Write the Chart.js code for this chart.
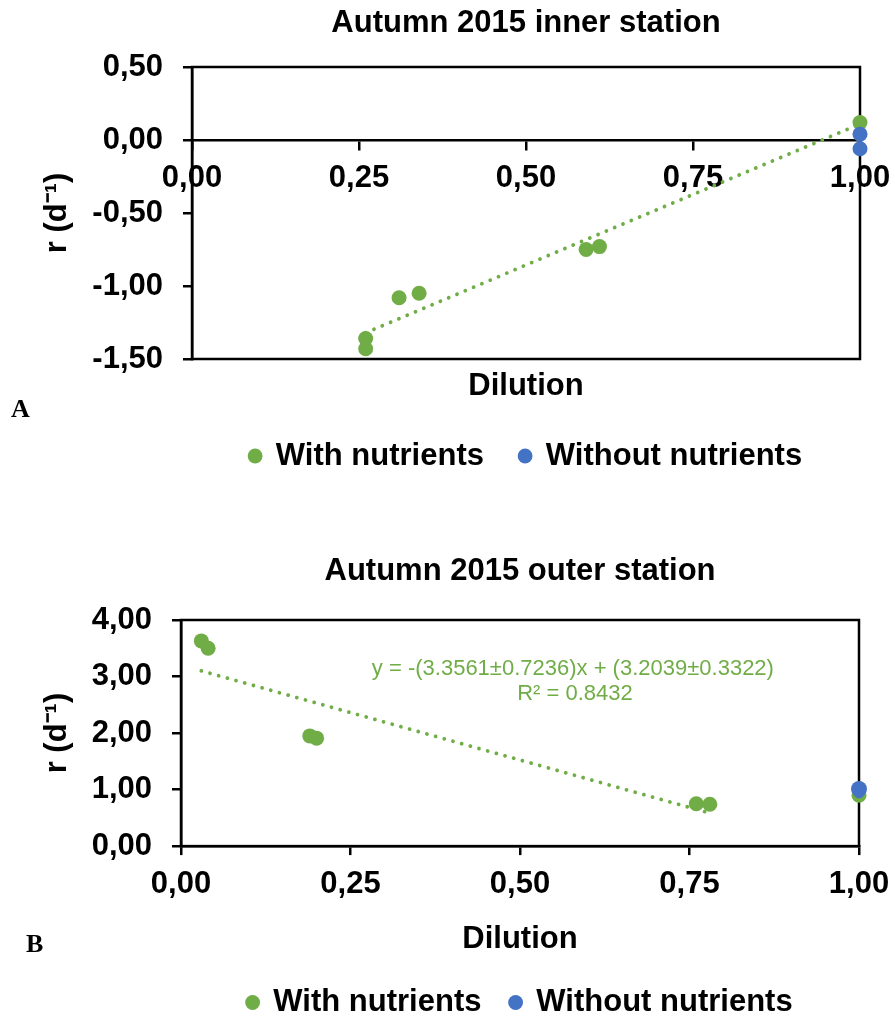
<!DOCTYPE html>
<html><head><meta charset="utf-8">
<script src="https://cdn.jsdelivr.net/npm/chart.js@4"></script>
<style>
html,body{margin:0;padding:0;background:#fff;overflow:hidden;width:895px;height:1021px;}
#wrap{position:relative;width:895px;height:1021px;overflow:hidden;}
canvas{position:absolute;left:0;}
#c1{top:0}
#c2{top:484px}
.lbl{position:absolute;font-family:"Liberation Serif","Times New Roman",serif;font-weight:bold;font-size:26px;color:#000;line-height:1}
</style></head>
<body><div id="wrap">
<canvas id="c1" width="895" height="484"></canvas>
<canvas id="c2" width="895" height="544"></canvas>
<div class="lbl" style="left:11px;top:396px">A</div>
<div class="lbl" style="left:26px;top:931px">B</div>
</div>
<script>
// ---------- data: panel A (inner station) ----------
const innerWithX    = [0.26, 0.26, 0.31, 0.34, 0.59, 0.61, 1.00];
const innerWithR    = [-1.36, -1.43, -1.08, -1.05, -0.75, -0.73, 0.12];
const innerWithoutX = [1.00, 1.00];
const innerWithoutR = [0.04, -0.06];
const innerTrendX   = [0.26, 1.00];
const innerTrendR   = [-1.32, 0.11];
const innerYTicks   = [-1.5, -1.0, -0.5, 0.0, 0.5];
const innerYLabels  = ['-1,50', '-1,00', '-0,50', '0,00', '0,50'];

// ---------- data: panel B (outer station) ----------
const outerWithX    = [0.03, 0.04, 0.19, 0.20, 0.76, 0.78, 1.00];
const outerWithR    = [3.63, 3.50, 1.95, 1.91, 0.75, 0.74, 0.90];
const outerWithoutX = [1.00, 1.00];
const outerWithoutR = [1.01, 0.93];
const outerTrendX   = [0.03, 0.775];
const outerTrendR   = [3.10, 0.60];
const outerYTicks   = [0, 1, 2, 3, 4];
const outerYLabels  = ['0,00', '1,00', '2,00', '3,00', '4,00'];
const outerEquation = 'y = -(3.3561±0.7236)x + (3.2039±0.3322)';
const outerR2       = 'R² = 0.8432';

// ---------- shared ----------
const xTicks  = [0, 0.25, 0.5, 0.75, 1];
const xLabels = ['0,00', '0,25', '0,50', '0,75', '1,00'];
const seriesNames = ['With nutrients', 'Without nutrients'];

const FONT = "'Liberation Sans', Arial, Helvetica, sans-serif";
const FS = 31;
const GREEN = '#70AD47', BLUE = '#4472C4';
Chart.defaults.font.family = FONT;
Chart.defaults.font.weight = 'bold';
Chart.defaults.font.size = FS;
Chart.defaults.color = '#000';

const pts = (xs, ys) => xs.map((x, i) => ({x: x, y: ys[i]}));
const setTicks = (vals) => (scale) => { scale.ticks = vals.map(v => ({value: v})); };
const labelFrom = (labels) => (value, index) => labels[index];
const noSidePad = (s) => { s.paddingLeft = 0; s.paddingRight = 0; };

const boxPlugin = {
  id: 'plotBox',
  beforeDatasetsDraw(chart) {
    const {ctx, chartArea: a} = chart;
    ctx.save();
    ctx.strokeStyle = '#000';
    ctx.lineWidth = 2.5;
    ctx.strokeRect(a.left, a.top, a.right - a.left, a.bottom - a.top);
    ctx.restore();
  }
};

function axisGrid() {
  return {display: true, drawOnChartArea: false, drawTicks: true, tickLength: 9, color: '#000', lineWidth: 2.5};
}

function datasets(wx, wr, ox, or, tx, tr, blueRadius) {
  return [
    {label: seriesNames[0], data: pts(wx, wr), backgroundColor: GREEN, borderWidth: 0,
     pointRadius: 7.5, pointStyle: 'circle', order: 3, clip: false},
    {label: seriesNames[1], data: pts(ox, or), backgroundColor: BLUE, borderWidth: 0,
     pointRadius: blueRadius, pointStyle: 'circle', order: 2, clip: false},
    {label: 'trend', type: 'line', data: pts(tx, tr), borderColor: GREEN, borderWidth: 3.8,
     borderDash: [0.01, 9], borderCapStyle: 'round', pointRadius: 0, fill: false, order: 1, clip: false}
  ];
}

function legendOpts(pad) {
  return {
    position: 'bottom', fullSize: false,
    labels: {usePointStyle: true, pointStyle: 'circle', boxWidth: 10.5, boxHeight: 10.5, padding: pad,
             color: '#000', font: {size: FS, weight: 'bold'},
             filter: (item) => item.datasetIndex < 2,
             sort: (a, b) => a.datasetIndex - b.datasetIndex}
  };
}

// ---------- Panel A ----------
new Chart(document.getElementById('c1'), {
  type: 'scatter',
  data: {datasets: datasets(innerWithX, innerWithR, innerWithoutX, innerWithoutR, innerTrendX, innerTrendR, [7.5, 7.5])},
  options: {
    responsive: false, animation: false, events: [],
    layout: {padding: {top: 4.4, right: 35, bottom: 2.5, left: 0}},
    plugins: {
      title: {display: true, text: 'Autumn 2015 inner station', fullSize: false,
              padding: {top: 0, bottom: 25.4}, font: {size: FS, weight: 'bold'}, color: '#000'},
      legend: legendOpts(35.9),
      tooltip: {enabled: false}
    },
    scales: {
      x: {type: 'linear', position: {y: 0}, min: 0, max: 1,
          afterBuildTicks: setTicks(xTicks), afterFit: noSidePad,
          ticks: {callback: labelFrom(xLabels), padding: 10.4, maxRotation: 0, minRotation: 0, autoSkip: false},
          grid: axisGrid(), border: {display: true, color: '#000', width: 2.5}},
      x2: {type: 'linear', position: 'bottom', min: 0, max: 1, afterFit: noSidePad,
           ticks: {display: false}, grid: {display: false, drawTicks: false}, border: {display: false},
           title: {display: true, text: 'Dilution', padding: {top: 8.4, bottom: 0}, font: {size: FS, weight: 'bold'}}},
      y: {type: 'linear', position: 'left', min: -1.5, max: 0.5,
          afterBuildTicks: setTicks(innerYTicks),
          afterFit: (s) => { s.width = 192; },
          ticks: {callback: labelFrom(innerYLabels), padding: 20, autoSkip: false},
          grid: axisGrid(), border: {display: true, color: '#000', width: 2.5},
          title: {display: true, text: 'r (d⁻¹)', padding: {top: 38.4, bottom: 0}, font: {size: FS, weight: 'bold'}}}
    }
  },
  plugins: [boxPlugin]
});

// ---------- Panel B ----------
const eqPlugin = {
  id: 'equation',
  afterDatasetsDraw(chart) {
    const {ctx, scales: {x, y}} = chart;
    ctx.save();
    ctx.fillStyle = GREEN;
    ctx.font = 'normal 22px ' + FONT;
    ctx.textAlign = 'center';
    ctx.textBaseline = 'middle';
    ctx.fillText(outerEquation, x.getPixelForValue(0.578), y.getPixelForValue(3.14));
    ctx.fillText(outerR2, x.getPixelForValue(0.581), y.getPixelForValue(2.70));
    ctx.restore();
  }
};

new Chart(document.getElementById('c2'), {
  type: 'scatter',
  data: {datasets: datasets(outerWithX, outerWithR, outerWithoutX, outerWithoutR, outerTrendX, outerTrendR, [8, 5])},
  options: {
    responsive: false, animation: false, events: [],
    layout: {padding: {top: 68.4, right: 36, bottom: 0, left: 0}},
    plugins: {
      title: {display: true, text: 'Autumn 2015 outer station', fullSize: false,
              padding: {top: 0, bottom: 30.4}, font: {size: FS, weight: 'bold'}, color: '#000'},
      legend: legendOpts(28.9),
      tooltip: {enabled: false}
    },
    scales: {
      x: {type: 'linear', position: 'bottom', min: 0, max: 1,
          afterBuildTicks: setTicks(xTicks), afterFit: noSidePad,
          ticks: {callback: labelFrom(xLabels), padding: 10.4, maxRotation: 0, minRotation: 0, autoSkip: false},
          grid: axisGrid(), border: {display: true, color: '#000', width: 2.5},
          title: {display: true, text: 'Dilution', padding: {top: 7.8, bottom: 0}, font: {size: FS, weight: 'bold'}}},
      y: {type: 'linear', position: 'left', min: 0, max: 4,
          afterBuildTicks: setTicks(outerYTicks),
          afterFit: (s) => { s.width = 181; },
          ticks: {callback: labelFrom(outerYLabels), padding: 20, autoSkip: false},
          grid: axisGrid(), border: {display: true, color: '#000', width: 2.5},
          title: {display: true, text: 'r (d⁻¹)', padding: {top: 38.4, bottom: 0}, font: {size: FS, weight: 'bold'}}}
    }
  },
  plugins: [boxPlugin, eqPlugin]
});
</script>
</body></html>
